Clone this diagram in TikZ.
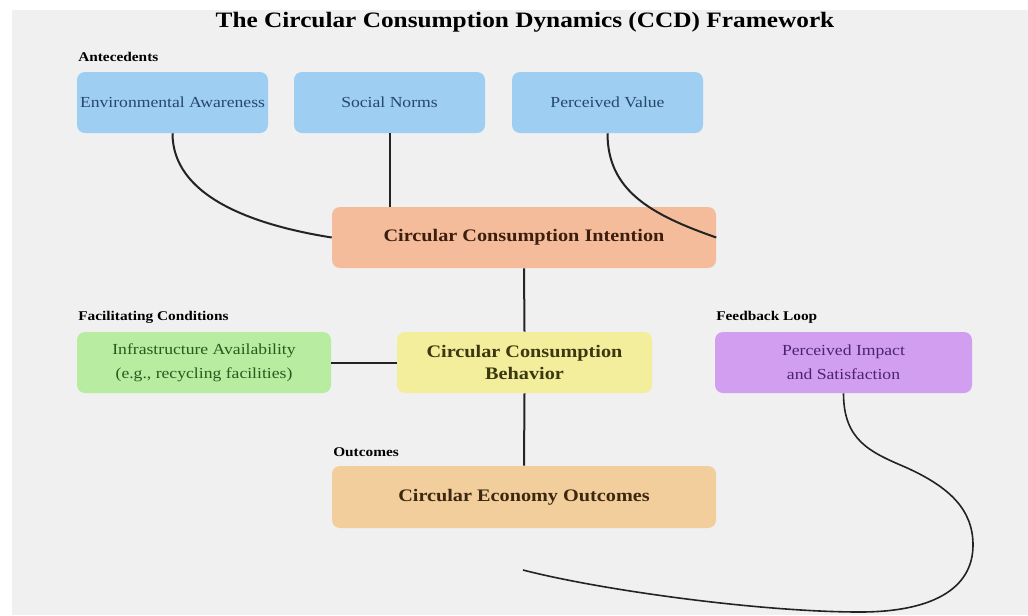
\documentclass[tikz,border=0pt]{standalone}
\usepackage{fontspec}
\setmainfont[FakeStretch=1.15]{Liberation Serif}
\usepackage{xcolor}
\usetikzlibrary{positioning}
\definecolor{pagegray}{RGB}{240,240,240}
\definecolor{antefill}{RGB}{158,206,242}
\definecolor{antetext}{RGB}{40,70,110}
\definecolor{intentfill}{RGB}{244,188,154}
\definecolor{intenttext}{RGB}{60,30,15}
\definecolor{infrafill}{RGB}{184,236,160}
\definecolor{infratext}{RGB}{40,90,30}
\definecolor{behavfill}{RGB}{242,238,156}
\definecolor{behavtext}{RGB}{60,55,15}
\definecolor{feedfill}{RGB}{210,158,240}
\definecolor{feedtext}{RGB}{75,35,110}
\definecolor{outfill}{RGB}{242,206,156}
\definecolor{outtext}{RGB}{60,40,15}
\definecolor{linkgray}{RGB}{35,35,35}

\begin{document}
\begin{tikzpicture}[x=0.75pt,y=-0.75pt,
    box/.style={rounded corners=6pt,align=center,inner sep=0pt,minimum height=45.75pt},
    antebox/.style={box,minimum width=143.25pt,fill=antefill,text=antetext,font=\fontsize{11.5}{18}\selectfont},
    widebox/.style={box,minimum width=288pt,font=\bfseries\fontsize{13.2}{16}\selectfont},
    midbox/.style={box,minimum width=191pt,font=\fontsize{11.5}{18}\selectfont},
    grouplabel/.style={anchor=west,inner sep=0pt,font=\bfseries\fontsize{10}{12}\selectfont},
    link/.style={linkgray,line width=1.5pt}]
    \fill[white] (0,0) rectangle (1028,615);
    \fill[pagegray] (12,10) rectangle (1028,615);

    \node[font=\bfseries\fontsize{16.5}{20}\selectfont] (title) at (525,22) {The Circular Consumption Dynamics (CCD) Framework};

    \node[grouplabel] (antelabel) at (78,57) {Antecedents};
    \node[antebox] (env) at (172.5,102.5) {Environmental Awareness};
    \node[antebox] (soc) at (389.5,102.5) {Social Norms};
    \node[antebox] (pv) at (607.5,102.5) {Perceived Value};

    \node[widebox,fill=intentfill,text=intenttext] (cci) at (524,237.5) {Circular Consumption Intention};

    \node[grouplabel] (faclabel) at (78,317) {Facilitating Conditions};
    \node[midbox,minimum width=190.5pt,fill=infrafill,text=infratext] (infra) at (204,362.5) {Infrastructure Availability\\(e.g., recycling facilities)};
    \node[widebox,minimum width=191.25pt,fill=behavfill,text=behavtext] (ccb) at (524.5,362.5) {Circular Consumption\\Behavior};

    \node[grouplabel] (feedlabel) at (716,317) {Feedback Loop};
    \node[midbox,minimum width=192.75pt,fill=feedfill,text=feedtext] (pi) at (843.5,362.5) {Perceived Impact\\and Satisfaction};

    \node[grouplabel] (outlabel) at (333,452) {Outcomes};
    \node[widebox,minimum height=46.5pt,fill=outfill,text=outtext] (ceo) at (524,497) {Circular Economy Outcomes};

    \coordinate (loopend) at (523,570);

    \draw[link] (env.south) .. controls +(0,62) and +(-82,-13) .. (cci.west);
    \draw[link] (soc.south) -- (soc.south |- cci.north);
    \draw[link] (pv.south) .. controls +(0,57) and +(-66,-23) .. (cci.east);
    \draw[link] (cci.south) -- (ccb.north);
    \draw[link] (infra.east) -- (ccb.west);
    \draw[link] (ccb.south) -- (ceo.north);
    \draw[link,line width=1.2pt] (pi.south) .. controls +(0,47) and (870,452) .. (905,467)
        .. controls (950,487) and (973,510) .. (973,545)
        .. controls (973,590) and (930,612) .. (860,612)
        .. controls (760,612) and (600,590) .. (loopend);
\end{tikzpicture}
\end{document}
